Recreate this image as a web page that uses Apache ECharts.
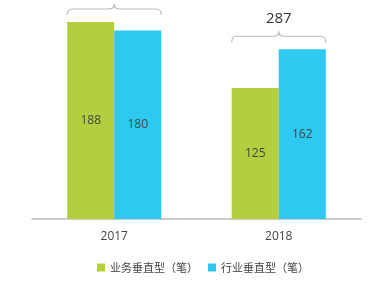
<!DOCTYPE html>
<html><head><meta charset="utf-8">
<script src="https://cdn.jsdelivr.net/npm/echarts@6/dist/echarts.min.js"></script>
<style>html,body{margin:0;padding:0;background:#fff}#c{width:380px;height:282px}</style>
</head><body><div id="c"></div>
<script>
var categories = ['2017', '2018'];
var seriesNames = ['业务垂直型（笔）', '行业垂直型（笔）'];
var businessValues = [188, 125];
var industryValues = [180, 162];
var totals = [368, 287];

var chart = echarts.init(document.getElementById('c'));
var braceData = categories.map(function (c, i) {
  return [i, Math.max(businessValues[i], industryValues[i]), totals[i]];
});
chart.setOption({
  animation: false,
  grid: { left: 32, right: 19, top: 0, bottom: 63 },
  legend: {
    bottom: 4, left: 92, itemWidth: 8, itemHeight: 8, itemGap: 10,
    icon: 'rect',
    textStyle: { fontSize: 11, color: '#444', fontFamily: 'Noto Sans CJK SC' },
    data: seriesNames
  },
  xAxis: {
    type: 'category', data: categories,
    axisLine: { lineStyle: { color: '#bbb', width: 1.5 } },
    axisTick: { show: false },
    axisLabel: { color: '#444', fontSize: 12, margin: 12, fontFamily: 'Open Sans' }
  },
  yAxis: { type: 'value', min: 0, max: 209, show: false, splitLine: { show: false } },
  series: [
    {
      name: seriesNames[0], type: 'bar', data: businessValues, barWidth: '28.6%', barGap: '0%',
      itemStyle: { color: '#b4cf3d' },
      label: { show: true, position: 'inside', color: '#444', fontSize: 12, fontFamily: 'Open Sans' }
    },
    {
      name: seriesNames[1], type: 'bar', data: industryValues, barWidth: '28.6%', barGap: '0%',
      itemStyle: { color: '#2ec8f0' },
      label: { show: true, position: 'inside', color: '#444', fontSize: 12, fontFamily: 'Open Sans' }
    },
    {
      type: 'custom', data: braceData, silent: true, clip: false,
      renderItem: function (params, api) {
        var p = api.coord([api.value(0), api.value(1)]);
        var band = api.size([1, 0])[0];
        var half = band * 0.286;
        var xc = p[0], x0 = xc - half, x1 = xc + half;
        var yb = p[1] - 7, yh = yb - 6, yt = yh - 5, r = 5;
        var d = 'M' + x0 + ' ' + yb + ' Q' + x0 + ' ' + yh + ' ' + (x0 + r) + ' ' + yh +
          ' L' + (xc - r) + ' ' + yh + ' Q' + xc + ' ' + yh + ' ' + xc + ' ' + yt +
          ' Q' + xc + ' ' + yh + ' ' + (xc + r) + ' ' + yh +
          ' L' + (x1 - r) + ' ' + yh + ' Q' + x1 + ' ' + yh + ' ' + x1 + ' ' + yb;
        return {
          type: 'group',
          children: [
            { type: 'path', shape: { pathData: d }, style: { fill: null, stroke: '#bbb', lineWidth: 1.2 } },
            { type: 'text', style: { text: String(api.value(2)), x: xc, y: yt - 13, align: 'center', verticalAlign: 'middle', fill: '#333', fontSize: 15, fontFamily: 'Open Sans' } }
          ]
        };
      }
    }
  ]
});
</script></body></html>
